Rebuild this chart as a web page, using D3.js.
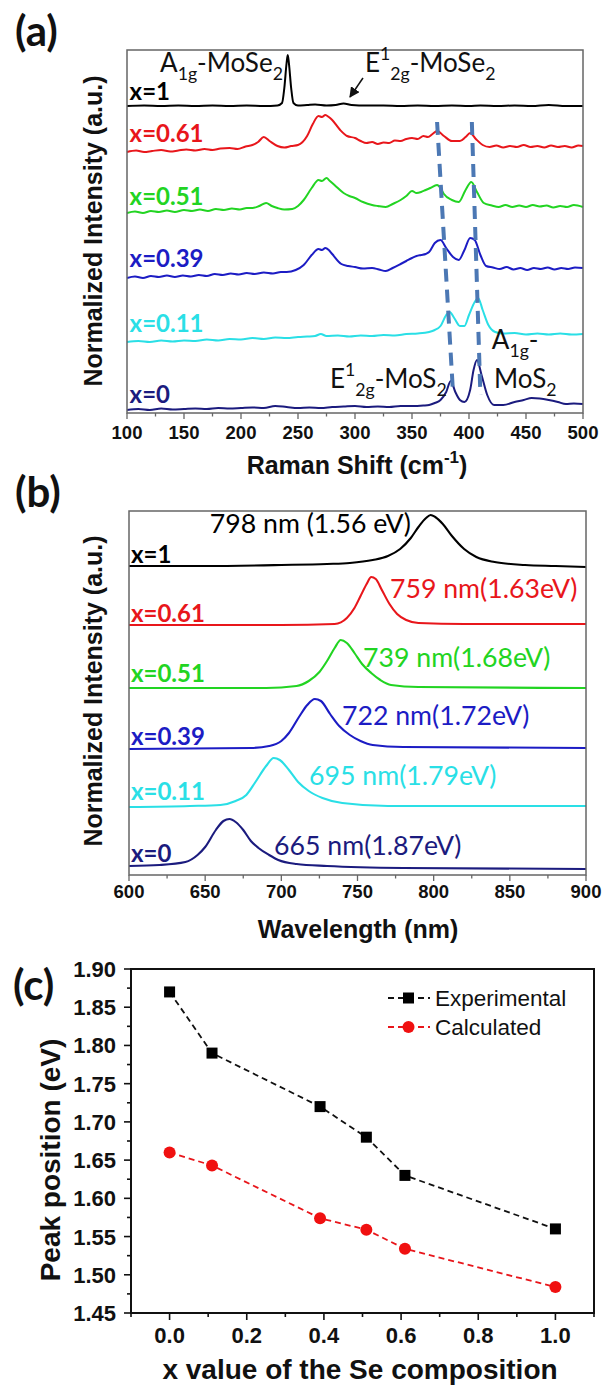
<!DOCTYPE html>
<html><head><meta charset="utf-8">
<script src="https://cdn.jsdelivr.net/npm/d3@7"></script>
<style>body{margin:0;background:#fff}svg{display:block}</style>
</head><body>
<svg id="fig" width="602" height="1386"></svg>
<script>
// ---------------- DATA ----------------
// Panel (a): Raman spectra, [shift cm-1, stacked normalized intensity]
const ramanLabels = ["x=1","x=0.61","x=0.51","x=0.39","x=0.11","x=0"];
const raman_x1 = [[100,307],[115,307.5],[130,307],[145,307.5],[160,307],[175,307.5],[190,307],[205,307.5],[220,307],[232,307.5],[236,310],[238,325],[240,350],[241,358],[242,350],[244,325],[246,310],[250,307.5],[258,308],[265,308.5],[275,307.5],[283,308],[290,309.5],[297,308],[310,307.5],[325,307.5],[340,307],[355,307.5],[370,307],[385,307.5],[400,307],[410,307.5],[425,307],[440,307.5],[455,307],[470,308],[485,307],[500,307]];
const raman_x061 = [[100,261],[108,262.5],[115,261],[122,262],[130,263],[138,261.5],[145,262.5],[152,263.5],[160,262.5],[168,264],[175,263],[182,264.5],[190,265],[197,264],[204,266.5],[210,268],[215,271],[220,276],[225,272],[232,267],[238,265.5],[244,267],[250,268],[258,277],[263,289],[268,297],[271,296],[274,298],[277,296],[280,293],[287,283],[293,277],[300,275],[305,272],[310,270],[315,271],[320,269],[325,270.5],[330,270],[335,272.5],[340,272],[345,274],[350,275],[355,274],[360,277],[364,276],[368,279],[372,282],[378,277],[385,272],[392,272],[397,276],[401,280],[406,274],[412,268],[418,266],[424,267.5],[430,265.5],[436,267],[442,266],[448,268],[454,266],[460,267],[466,265.5],[472,267.5],[478,266],[484,267],[490,265.5],[496,267.5],[500,267]];
const raman_x051 = [[100,200],[107,201.5],[114,200],[121,202],[128,201],[135,202.5],[142,201],[150,203],[157,202],[164,203.5],[171,202],[178,204],[185,203],[192,204.5],[199,203.5],[205,205],[210,205],[216,207],[222,210],[227,207],[232,205],[238,203.5],[245,204],[250,207],[255,213],[262,225],[268,233],[271,232],[275,235],[278,232],[282,228],[290,220],[295,217],[300,215],[307,211],[315,208],[320,207],[327,206],[333,209],[340,213],[345,217],[350,222],[354,220],[358,221],[362,223],[366,225],[372,228],[375,225],[378,219],[385,213],[391,211],[397,223],[402,231],[407,221],[413,210],[420,207.5],[426,206],[432,208],[438,206],[444,207.5],[450,206],[456,208],[462,206.5],[468,207.5],[474,205.5],[480,207],[486,206],[492,208],[500,206]];
const raman_x039 = [[100,135],[107,136.5],[114,135],[121,137],[128,136],[135,137.5],[142,136],[149,137.5],[156,136.5],[163,138],[170,137],[177,139],[184,138],[191,139.5],[198,138.5],[205,140],[212,139],[220,140.5],[228,139.5],[235,141],[240,141],[248,143],[255,148],[262,158],[268,164],[271,163],[274,165],[277,163],[280,159],[288,149],[294,147],[300,146],[307,144.5],[315,145],[321,143.5],[327,142],[333,145],[340,149],[345,152],[350,155],[354,157],[358,158],[362,159],[365,161],[370,170],[375,173],[380,165],[386,156],[391,153],[396,163],[401,175],[405,173],[410,158],[415,147],[421,145.5],[427,144],[433,146],[439,143.5],[445,145],[451,143],[457,145],[463,144],[469,145.5],[475,143.5],[481,145],[487,144],[493,145.5],[500,145]];
const raman_x011 = [[100,71],[110,72],[120,71],[130,72.5],[140,71.5],[150,72.5],[160,72],[170,73.5],[180,72.5],[190,74],[200,73.5],[210,75],[220,74],[230,75.5],[240,75],[250,76],[258,76.5],[265,77],[270,79],[275,77],[285,77.5],[295,76.5],[305,77.5],[315,77],[325,78],[335,77.5],[345,79],[355,79.5],[365,81],[370,83],[375,87],[380,98],[383,101],[387,95],[392,87],[396,87],[400,98],[405,111],[408,115],[412,103],[417,88],[423,81],[430,79.5],[440,80],[450,78.5],[460,79.5],[470,78.5],[480,79.5],[490,78.5],[500,79]];
const raman_x0 = [[100,3],[110,4],[120,3],[130,4.5],[140,3.5],[150,4],[160,4.5],[170,4],[180,5],[190,4.5],[200,5],[210,5.5],[220,5],[230,7],[240,6],[250,5],[260,5.5],[270,5],[280,6],[290,6.5],[300,7],[310,6],[320,6.5],[330,6],[340,7],[350,7],[360,7.5],[365,8],[370,10],[375,13],[380,21],[384,32],[388,21],[392,13],[396,11],[401,23],[404,43],[407,53],[411,38],[416,18],[422,8],[430,8],[440,11],[448,13],[455,15],[462,14.5],[470,13],[478,11],[485,9],[492,9.5],[500,9]];
const ramanTicks = [100,150,200,250,300,350,400,450,500];
// dashed guide lines (shift, intensity) start -> end
const ramanGuideE = [[372,291],[386,20]];
const ramanGuideA = [[402.5,291],[410,18]];

// Panel (b): PL spectra, [wavelength nm, stacked normalized intensity]
const plLabels = ["x=1","x=0.61","x=0.51","x=0.39","x=0.11","x=0"];
const plPeakText = ["798 nm (1.56 eV)","759 nm(1.63eV)","739 nm(1.68eV)","722 nm(1.72eV)","695 nm(1.79eV)","665 nm(1.87eV)"];
const pl_x1 = [[600,309],[650,309],[700,310],[730,311],[745,312],[760,315],[770,319],[778,326],[785,337],[790,348],[795,357],[798,360],[801,358],[806,351],[812,339],[820,326],[828,318],[840,313],[860,310],[880,309],[900,308]];
const pl_x061 = [[600,250],[700,250],[735,251],[743,257],[748,267],[752,279],[756,291],[759,298],[762,296],[766,285],[771,271],[776,261],[782,255],[790,252],[820,251],[900,251]];
const pl_x051 = [[600,187],[690,187],[710,189],[718,194],[725,203],[730,214],[735,227],[739,235],[743,232],[748,222],[753,211],[759,202],[765,195],[772,190],[790,188],[900,187]];
const pl_x039 = [[600,126],[680,127],[692,129],[700,134],[705,142],[712,159],[717,170],[722,176],[726,174],[732,161],[738,149],[745,140],[752,134],[760,130],[780,128],[900,127]];
const pl_x011 = [[600,68],[640,69],[660,70],[670,74],[677,80],[683,93],[690,109],[695,117],[699,115],[705,105],[711,93],[718,84],[727,77],[740,72],[770,69],[900,69]];
const pl_x0 = [[600,9],[620,10],[637,13],[645,20],[650,28],[657,45],[662,54],[666,56],[670,53],[675,45],[680,34],[685,27],[692,20],[698,15],[710,11],[730,9],[780,7],[900,6]];
const plTicks = [600,650,700,750,800,850,900];

// Panel (c): peak position vs Se composition
const seX = [0, 0.11, 0.39, 0.51, 0.61, 1.0];
const expEV = [1.87, 1.79, 1.72, 1.68, 1.63, 1.56];
const calcEV = [1.66, 1.643, 1.574, 1.559, 1.534, 1.484];
const cXTicks = [0.0,0.2,0.4,0.6,0.8,1.0];
const cYTicks = [1.45,1.50,1.55,1.60,1.65,1.70,1.75,1.80,1.85,1.90];

// ---------------- STYLE ----------------
const seriesColors = ["#000000","#e8161b","#22d422","#1c1cc4","#2adfe6","#1b1b7e"];
const AX = "'Liberation Sans', Arial, sans-serif";
const ANN = "Lato, 'Open Sans', sans-serif";

const svg = d3.select("#fig");

function rich(sel, parts){
  let off = 0;
  parts.forEach(([t,m])=>{
    const target = m==="sub"?0.3:(m==="sup"?-0.45:0);
    const ts = sel.append("tspan").text(t);
    if(m!=="n") ts.attr("font-size","0.68em").attr("dy", ((target-off)/0.68)+"em");
    else ts.attr("dy",(target-off)+"em");
    off = target;
  });
}

function bottomAxis(g, x, ticks, minor, y0, opt){
  const ax = g.append("g").attr("transform",`translate(0,${y0})`);
  ax.selectAll(".mj").data(ticks).join("line")
    .attr("x1",d=>x(d)).attr("x2",d=>x(d)).attr("y1",0).attr("y2",opt.major)
    .attr("stroke",opt.color).attr("stroke-width",opt.tw);
  ax.selectAll(".mn").data(minor).join("line")
    .attr("x1",d=>x(d)).attr("x2",d=>x(d)).attr("y1",0).attr("y2",opt.minor)
    .attr("stroke",opt.color).attr("stroke-width",opt.tw);
  ax.selectAll("text").data(ticks).join("text")
    .attr("x",d=>x(d)).attr("y",opt.labelY).attr("text-anchor","middle")
    .attr("font-family",AX).attr("font-weight","bold").attr("font-size",opt.fs)
    .attr("fill","#111").text(opt.fmt);
}

// ---------------- PANEL A ----------------
(function(){
  const xA = d3.scaleLinear().domain([100,500]).range([127,583]);
  const yA = d3.scaleLinear().domain([0,363]).range([413,50]);
  const g = svg.append("g");
  const series = [raman_x1,raman_x061,raman_x051,raman_x039,raman_x011,raman_x0];
  const line = d3.line().x(d=>xA(d[0])).y(d=>yA(d[1])).curve(d3.curveMonotoneX);
  series.forEach((s,i)=>{
    g.append("path").attr("d",line(s)).attr("fill","none")
      .attr("stroke",seriesColors[i]).attr("stroke-width",2).attr("stroke-linejoin","round");
  });
  [ramanGuideE, ramanGuideA].forEach(gd=>{
    g.append("line").attr("x1",xA(gd[0][0])).attr("y1",yA(gd[0][1]))
      .attr("x2",xA(gd[1][0])).attr("y2",yA(gd[1][1]))
      .attr("stroke","#4c78b4").attr("stroke-width",4).attr("stroke-dasharray","13,8");
  });
  g.append("rect").attr("x",127).attr("y",50).attr("width",456).attr("height",363)
    .attr("fill","none").attr("stroke","#666").attr("stroke-width",1.5);
  bottomAxis(g,xA,ramanTicks,d3.range(125,500,50),413,{major:6,minor:3.5,color:"#666",tw:1.3,labelY:26,fs:18.5,fmt:d=>d});
  const labY = [313,271,208,146,81,10];
  ramanLabels.forEach((t,i)=>{
    g.append("text").attr("x",xA(102.3)).attr("y",yA(labY[i])).text(t)
      .attr("font-family",ANN).attr("font-weight","bold").attr("font-size",24).attr("fill",seriesColors[i]);
  });
  const ann = (x,y,parts)=>{ const t=g.append("text").attr("x",xA(x)).attr("y",yA(y))
      .attr("font-family",ANN).attr("font-size",26).attr("fill","#111"); rich(t,parts); };
  ann(129,341,[["A","n"],["1g","sub"],["-MoSe","n"],["2","sub"]]);
  ann(308.7,341,[["E","n"],["1","sup"],["2g","sub"],["-MoSe","n"],["2","sub"]]);
  ann(278,25,[["E","n"],["1","sup"],["2g","sub"],["-MoS","n"],["2","sub"]]);
  ann(420,64,[["A","n"],["1g","sub"],["-","n"]]);
  ann(422,25,[["MoS","n"],["2","sub"]]);
  const defs = svg.append("defs");
  defs.append("marker").attr("id","ah").attr("viewBox","0 0 10 10").attr("refX",9).attr("refY",5)
    .attr("markerWidth",7).attr("markerHeight",7).attr("orient","auto")
    .append("path").attr("d","M0,0 L10,5 L0,10 z").attr("fill","#111");
  g.append("line").attr("x1",xA(307)).attr("y1",yA(335)).attr("x2",xA(295.6)).attr("y2",yA(316))
    .attr("stroke","#111").attr("stroke-width",1.5).attr("marker-end","url(#ah)");
  const t = g.append("text").attr("x",357).attr("y",474).attr("text-anchor","middle")
    .attr("font-family",AX).attr("font-weight","bold").attr("font-size",25).attr("fill","#111");
  rich(t,[["Raman Shift (cm","n"],["-1","sup"],[")","n"]]);
  g.append("text").attr("transform","translate(102,231) rotate(-90)").attr("text-anchor","middle")
    .attr("font-family",AX).attr("font-weight","bold").attr("font-size",25).attr("fill","#111")
    .text("Normalized Intensity (a.u.)");
  g.append("text").attr("x",15).attr("y",46).text("(a)")
    .attr("font-family",ANN).attr("font-weight","bold").attr("font-size",42).attr("fill","#111");
})();

// ---------------- PANEL B ----------------
(function(){
  const xB = d3.scaleLinear().domain([600,900]).range([129,586]);
  const yB = d3.scaleLinear().domain([0,364]).range([875,511]);
  const g = svg.append("g");
  const series = [pl_x1,pl_x061,pl_x051,pl_x039,pl_x011,pl_x0];
  const line = d3.line().x(d=>xB(d[0])).y(d=>yB(d[1])).curve(d3.curveMonotoneX);
  series.forEach((s,i)=>{
    g.append("path").attr("d",line(s)).attr("fill","none")
      .attr("stroke",seriesColors[i]).attr("stroke-width",2.1);
  });
  g.append("rect").attr("x",129).attr("y",511).attr("width",457).attr("height",364)
    .attr("fill","none").attr("stroke","#666").attr("stroke-width",1.5);
  bottomAxis(g,xB,plTicks,d3.range(625,900,50),875,{major:6,minor:3.5,color:"#666",tw:1.3,labelY:23,fs:18.5,fmt:d=>d});
  const labY = [312,253,193,130,75,13];
  plLabels.forEach((t,i)=>{
    g.append("text").attr("x",xB(601.3)).attr("y",yB(labY[i])).text(t)
      .attr("font-family",ANN).attr("font-weight","bold").attr("font-size",24).attr("fill",seriesColors[i]);
  });
  const pkX = [653,771.3,753.6,739.8,718.2,695.2];
  const pkY = [342,277,208,150,90,20];
  plPeakText.forEach((t,i)=>{
    g.append("text").attr("x",xB(pkX[i])).attr("y",yB(pkY[i])).text(t)
      .attr("font-family",ANN).attr("font-size",26.7).attr("fill",seriesColors[i]);
  });
  g.append("text").attr("x",358).attr("y",938).attr("text-anchor","middle")
    .attr("font-family",AX).attr("font-weight","bold").attr("font-size",25).attr("fill","#111")
    .text("Wavelength (nm)");
  g.append("text").attr("transform","translate(102,691) rotate(-90)").attr("text-anchor","middle")
    .attr("font-family",AX).attr("font-weight","bold").attr("font-size",25).attr("fill","#111")
    .text("Normalized Intensity (a.u.)");
  g.append("text").attr("x",15).attr("y",507).text("(b)")
    .attr("font-family",ANN).attr("font-weight","bold").attr("font-size",42).attr("fill","#111");
})();

// ---------------- PANEL C ----------------
(function(){
  const xC = d3.scaleLinear().domain([-0.1,1.1]).range([131,594]);
  const yC = d3.scaleLinear().domain([1.45,1.90]).range([1313,969]);
  const g = svg.append("g");
  g.append("rect").attr("x",131).attr("y",969).attr("width",463).attr("height",344)
    .attr("fill","none").attr("stroke","#111").attr("stroke-width",2);
  const xa = g.append("g").attr("transform","translate(0,1313)");
  xa.selectAll(".mj").data(cXTicks).join("line").attr("x1",d=>xC(d)).attr("x2",d=>xC(d))
    .attr("y1",0).attr("y2",7).attr("stroke","#111").attr("stroke-width",1.6);
  xa.selectAll(".mn").data([-0.1,0.1,0.3,0.5,0.7,0.9,1.1]).join("line").attr("x1",d=>xC(d)).attr("x2",d=>xC(d))
    .attr("y1",0).attr("y2",4).attr("stroke","#111").attr("stroke-width",1.6);
  xa.selectAll("text").data(cXTicks).join("text").attr("x",d=>xC(d)).attr("y",30)
    .attr("text-anchor","middle").attr("font-family",AX).attr("font-weight","bold")
    .attr("font-size",22).attr("fill","#111").text(d=>d.toFixed(1));
  const ya = g.append("g").attr("transform","translate(131,0)");
  ya.selectAll(".mj").data(cYTicks).join("line").attr("y1",d=>yC(d)).attr("y2",d=>yC(d))
    .attr("x1",0).attr("x2",-7).attr("stroke","#111").attr("stroke-width",1.6);
  ya.selectAll(".mn").data(cYTicks.slice(0,-1).map(d=>d+0.025)).join("line").attr("y1",d=>yC(d)).attr("y2",d=>yC(d))
    .attr("x1",0).attr("x2",-4).attr("stroke","#111").attr("stroke-width",1.6);
  ya.selectAll("text").data(cYTicks).join("text").attr("x",-15).attr("y",d=>yC(d)+8)
    .attr("text-anchor","end").attr("font-family",AX).attr("font-weight","bold")
    .attr("font-size",22).attr("fill","#111").text(d=>d.toFixed(2));
  const mk = (vals)=>seX.map((x,i)=>[x,vals[i]]);
  const line = d3.line().x(d=>xC(d[0])).y(d=>yC(d[1]));
  g.append("path").attr("d",line(mk(expEV))).attr("fill","none").attr("stroke","#111")
    .attr("stroke-width",1.8).attr("stroke-dasharray","6,4");
  g.append("path").attr("d",line(mk(calcEV))).attr("fill","none").attr("stroke","#e8161b")
    .attr("stroke-width",1.8).attr("stroke-dasharray","6,4");
  g.selectAll(".sq").data(mk(expEV)).join("rect").attr("x",d=>xC(d[0])-5.5).attr("y",d=>yC(d[1])-5.5)
    .attr("width",11).attr("height",11).attr("fill","#000");
  g.selectAll(".ci").data(mk(calcEV)).join("circle").attr("cx",d=>xC(d[0])).attr("cy",d=>yC(d[1]))
    .attr("r",6).attr("fill","#f01010");
  const lg = g.append("g");
  [[998,"#111","Experimental","sq"],[1027,"#e8161b","Calculated","ci"]].forEach(([y,c,t,s])=>{
    lg.append("line").attr("x1",388).attr("x2",430).attr("y1",y).attr("y2",y)
      .attr("stroke",c).attr("stroke-width",1.8).attr("stroke-dasharray","6,4");
    if(s==="sq") lg.append("rect").attr("x",403).attr("y",y-5.5).attr("width",11).attr("height",11).attr("fill","#000");
    else lg.append("circle").attr("cx",408.5).attr("cy",y).attr("r",6).attr("fill","#f01010");
    lg.append("text").attr("x",435).attr("y",y+8).text(t).attr("font-family",AX)
      .attr("font-size",22.5).attr("fill","#111");
  });
  g.append("text").attr("x",360).attr("y",1379).attr("text-anchor","middle")
    .attr("font-family",AX).attr("font-weight","bold").attr("font-size",28).attr("fill","#111")
    .text("x value of the Se composition");
  g.append("text").attr("transform","translate(60,1160) rotate(-90)").attr("text-anchor","middle")
    .attr("font-family",AX).attr("font-weight","bold").attr("font-size",28).attr("fill","#111")
    .text("Peak position (eV)");
  g.append("text").attr("x",13).attr("y",1000).text("(c)")
    .attr("font-family",ANN).attr("font-weight","bold").attr("font-size",42).attr("fill","#111");
})();
</script>
</body></html>
